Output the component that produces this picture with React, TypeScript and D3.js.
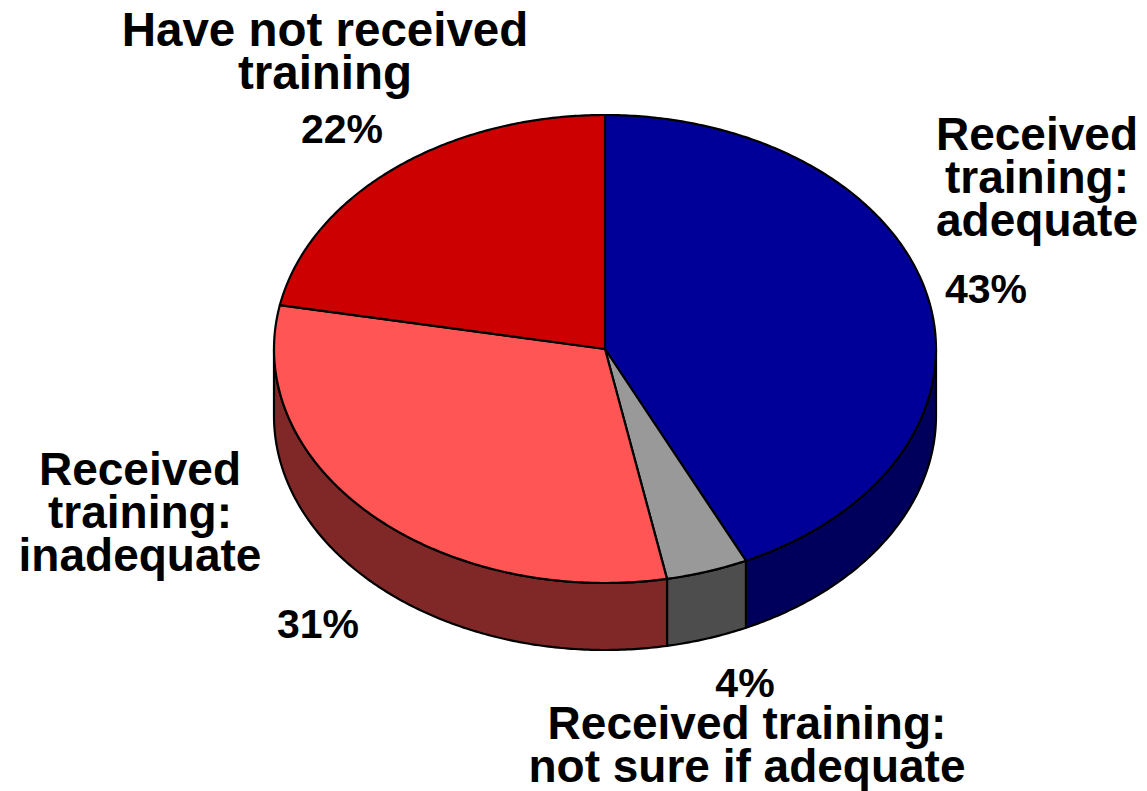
import React, { useEffect } from 'react';
import * as d3 from 'd3';

// slices in clockwise order starting at 12 o'clock
const categories = [
  'Received training: adequate',
  'Received training: not sure if adequate',
  'Received training: inadequate',
  'Have not received training',
];
const values = [43, 4, 31, 22];
const percentLabels = ['43%', '4%', '31%', '22%'];
const labelLines = [
  ['Received', 'training:', 'adequate'],
  ['Received training:', 'not sure if adequate'],
  ['Received', 'training:', 'inadequate'],
  ['Have not received', 'training'],
];
const topColors = ['#000099', '#999999', '#ff5555', '#cc0000'];
const sideColors = ['#00005c', '#4d4d4d', '#802828', '#7a0000'];

// label layout (x centre, first baseline) for category text and percentage
const labelPos = [
  { x: 1037, y: 150, px: 986, py: 303 },
  { x: 747, y: 739, px: 745, py: 697 },
  { x: 140, y: 485, px: 318, py: 638 },
  { x: 325, y: 46, px: 342, py: 143 },
];

const W = 1147;
const H = 791;
const cx = 605;
const cy = 349;
const rx = 331;
const ry = 234;
const depth = 67;
const font = '"Liberation Sans", Arial, Helvetica, sans-serif';

const ell = (t: number, dy = 0): [number, number] => [
  cx + rx * Math.sin(t),
  cy - ry * Math.cos(t) + dy,
];

const arcPts = (a0: number, a1: number, dy: number): [number, number][] => {
  const n = Math.max(2, Math.ceil(Math.abs(a1 - a0) / 0.01));
  return d3.range(n + 1).map(i => ell(a0 + ((a1 - a0) * i) / n, dy));
};

const line = d3.line<[number, number]>();

const App: React.FC = () => {
  useEffect(() => {
    document.body.style.margin = '0';
  }, []);

  const arcs = d3.pie<number>().sort(null).value(d => d)(values);

  // front-facing side walls (angles between PI/2 and 3PI/2 face the viewer)
  const sides = arcs
    .map((a, i) => {
      const s = Math.max(a.startAngle, Math.PI / 2);
      const e = Math.min(a.endAngle, (3 * Math.PI) / 2);
      if (e <= s) return null;
      const pts = [...arcPts(s, e, 0), ...arcPts(e, s, depth)];
      return { i, d: line(pts) + 'Z' };
    })
    .filter(Boolean) as { i: number; d: string }[];

  const tops = arcs.map((a, i) => {
    const pts: [number, number][] = [[cx, cy], ...arcPts(a.startAngle, a.endAngle, 0)];
    return { i, d: line(pts) + 'Z' };
  });

  return (
    <svg width={W} height={H} style={{ display: 'block', background: '#fff' }}>
      <g stroke="#000" strokeWidth={2.2} strokeLinejoin="round">
        {sides.map(s => (
          <path key={'s' + s.i} d={s.d} fill={sideColors[s.i]} />
        ))}
        {tops.map(t => (
          <path key={'t' + t.i} d={t.d} fill={topColors[t.i]}>
            <title>{categories[t.i]}</title>
          </path>
        ))}
      </g>
      <g fontFamily={font} fontWeight="bold" fill="#000" textAnchor="middle">
        {labelPos.map((p, i) => (
          <g key={'l' + i}>
            <text x={p.x} y={p.y} fontSize={i === 3 ? 47.5 : 46}>
              {labelLines[i].map((l, j) => (
                <tspan key={j} x={p.x} dy={j === 0 ? 0 : 43}>
                  {l}
                </tspan>
              ))}
            </text>
            <text x={p.px} y={p.py} fontSize={41}>
              {percentLabels[i]}
            </text>
          </g>
        ))}
      </g>
    </svg>
  );
};

export default App;
